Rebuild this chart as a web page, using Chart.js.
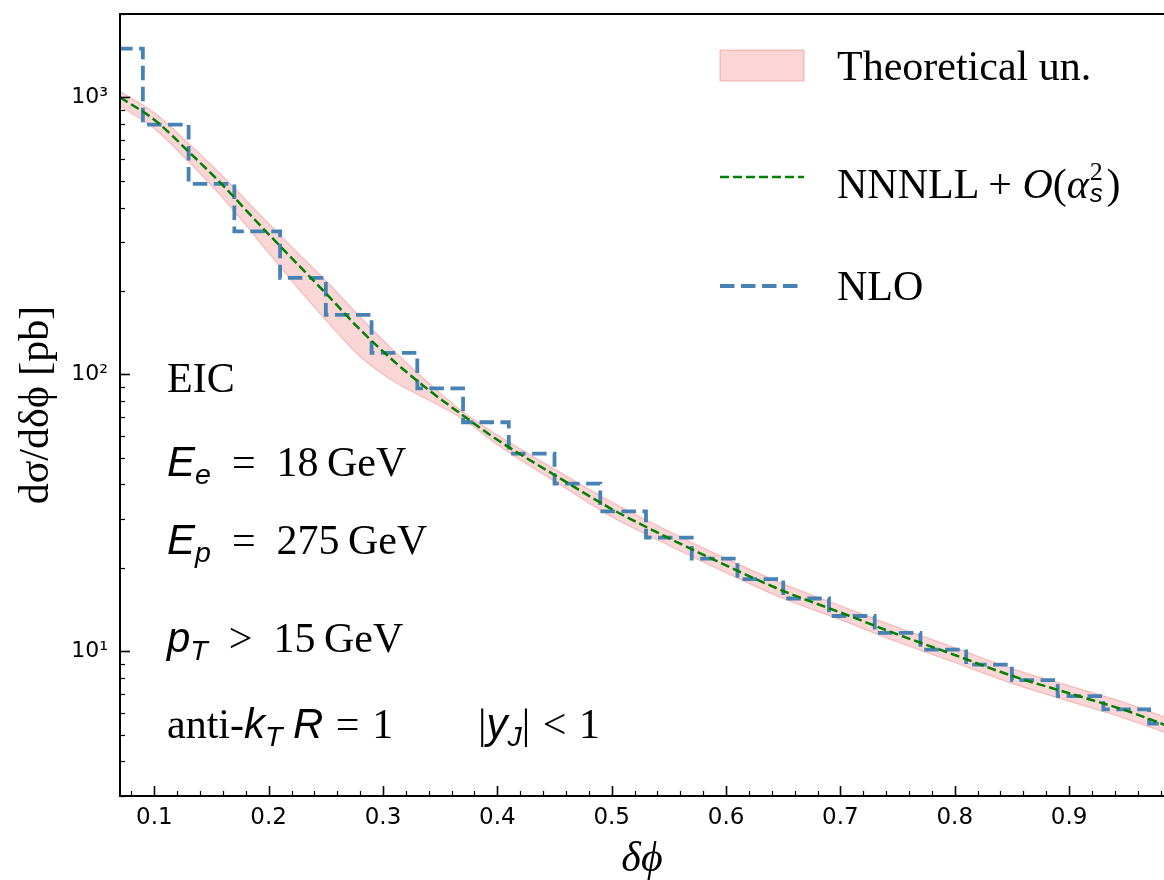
<!DOCTYPE html>
<html>
<head>
<meta charset="utf-8">
<script src="https://cdn.jsdelivr.net/npm/chart.js@4.4.0/dist/chart.umd.min.js"></script>
<style>
  body { margin: 0; background: #fff; }
  #wrap { position: relative; width: 1164px; height: 880px; overflow: hidden; }
  canvas { position: absolute; left: 0; top: 0; }
  .txt { position: absolute; font-family: "Liberation Serif", serif; font-size: 42px; line-height: 1; color: #000; white-space: nowrap; }
  .mi { font-family: "Liberation Sans", "DejaVu Sans", sans-serif; font-style: italic; }
  .it { font-style: italic; }
  sub { font-size: 0.68em; vertical-align: -0.28em; line-height: 0; }
  .op { margin: 0 0.5em; }
  .op2 { margin: 0 0.3em; }
  .ss { position: relative; display: inline-block; width: 0.42em; height: 1em; }
  .ss span { position: absolute; left: 0.04em; font-size: 0.62em; line-height: 1; }
  .ss .up { bottom: 0.5em; font-family: "Liberation Serif", serif; }
  .ss .dn { bottom: -0.3em; }
</style>
</head>
<body>
<div id="wrap">
  <canvas id="c" width="1164" height="880"></canvas>

  <div class="txt" style="left:837px;top:45px">Theoretical un.</div>
  <div class="txt" style="left:837px;top:156px">NNNLL + <span class="it">O</span>(<span class="it">α</span><span class="ss"><span class="up">2</span><span class="dn mi">s</span></span>)</div>
  <div class="txt" style="left:837px;top:265px">NLO</div>

  <div class="txt" style="left:167px;top:357px">EIC</div>
  <div class="txt" style="left:167px;top:441px"><span class="mi">E</span><sub class="mi">e</sub><span class="op">=</span>18&thinsp;GeV</div>
  <div class="txt" style="left:167px;top:519px"><span class="mi">E</span><sub class="mi">p</sub><span class="op">=</span>275&thinsp;GeV</div>
  <div class="txt" style="left:167px;top:617px"><span class="mi">p</span><sub class="mi">T</sub><span class="op">&gt;</span>15&thinsp;GeV</div>
  <div class="txt" style="left:167px;top:703px">anti-<span class="mi">k</span><sub class="mi">T</sub> <span class="mi">R</span><span class="op2">=</span>1</div>
  <div class="txt" style="left:478px;top:703px">|<span class="mi">y</span><sub class="mi">J</sub>|<span class="op2">&lt;</span>1</div>
</div>

<script>
// NNNLL + O(as^2) curve and its uncertainty band
const xTheory = [0.07, 0.10, 0.13, 0.16, 0.19, 0.22, 0.25, 0.28, 0.31, 0.34, 0.37, 0.40,
                 0.45, 0.50, 0.55, 0.60, 0.65, 0.70, 0.75, 0.80, 0.85, 0.90, 0.95, 0.99];
const nnnll  = [1000, 830, 637, 481, 354, 263, 196, 145, 111, 87.7, 71, 58,
                43.3, 32.6, 25.6, 20.4, 16.5, 13.8, 11.5, 9.69, 8.15, 7.05, 6.1, 5.3];
const bandUp = [1050, 880, 682, 519, 386, 289, 218, 161, 121, 93, 73.1, 60.3,
                45.5, 34.6, 27.1, 21.6, 17.5, 14.6, 12.2, 10.3, 8.65, 7.5, 6.5, 5.65];
const bandLo = [930, 772, 586, 433, 308, 218, 157, 116, 94, 80.7, 68.9, 55.7,
                41.1, 30.6, 24.1, 19.2, 15.5, 13.0, 10.8, 9.1, 7.65, 6.6, 5.7, 4.98];

// NLO histogram: bin edges and bin contents
const nloEdges = [0.05, 0.09, 0.13, 0.17, 0.21, 0.25, 0.29, 0.33, 0.37, 0.41, 0.45, 0.49, 0.53,
                  0.57, 0.61, 0.65, 0.69, 0.73, 0.77, 0.81, 0.85, 0.89, 0.93, 0.97, 1.01];
const nlo = [1500, 797, 487, 328, 223, 164, 119.5, 89, 67.1, 51.7, 40.3, 32.0,
             25.7, 21.6, 18.2, 15.5, 13.4, 11.65, 10.14, 8.95, 7.86, 6.88, 6.16, 5.48];

const xTicks = [0.1, 0.2, 0.3, 0.4, 0.5, 0.6, 0.7, 0.8, 0.9];
const yTicks = [10, 100, 1000];
const supDigits = {1: '\u00b9', 2: '\u00b2', 3: '\u00b3'};

const bandFill = 'rgba(240, 128, 128, 0.32)';
const bandEdge = 'rgba(240, 128, 128, 0.45)';
const green = '#008000';
const blue = '#4682b4';

function toXY(xs, ys) {
    return xs.map((x, i) => ({x: x, y: ys[i]}));
}
// last edge repeats the last bin value so the step closes
const nloPts = nloEdges.map((e, i) => ({x: e, y: nlo[Math.min(i, nlo.length - 1)]}));

// spines, inward ticks and legend handles
const frame = {
    id: 'frame',
    afterDatasetsDraw(chart) {
        const {ctx, chartArea: a, scales: {x, y}} = chart;
        ctx.save();
        ctx.strokeStyle = '#000';

        for (let i = 4; i <= 49; i++) {
            const v = i / 50;
            if (v < x.min || v > x.max) continue;
            const px = Math.round(x.getPixelForValue(v)) + 0.5;
            const major = i % 5 === 0;
            ctx.lineWidth = major ? 1.6 : 1.2;
            ctx.beginPath();
            ctx.moveTo(px, a.bottom);
            ctx.lineTo(px, a.bottom - (major ? 10 : 5));
            ctx.stroke();
        }
        for (const d of [1, 10, 100, 1000]) {
            for (let m = 1; m <= 9; m++) {
                const v = m * d;
                if (v < y.min || v > y.max) continue;
                const py = Math.round(y.getPixelForValue(v)) + 0.5;
                ctx.lineWidth = m === 1 ? 1.6 : 1.2;
                ctx.beginPath();
                ctx.moveTo(a.left, py);
                ctx.lineTo(a.left + (m === 1 ? 10 : 5), py);
                ctx.stroke();
            }
        }

        ctx.lineWidth = 2;
        ctx.beginPath();
        ctx.moveTo(a.right + 2, a.top);
        ctx.lineTo(a.left, a.top);
        ctx.lineTo(a.left, a.bottom);
        ctx.lineTo(a.right + 2, a.bottom);
        ctx.stroke();

        // legend handles
        ctx.fillStyle = bandFill;
        ctx.fillRect(720, 50, 84, 31);
        ctx.strokeStyle = bandEdge;
        ctx.lineWidth = 1.2;
        ctx.strokeRect(720, 50, 84, 31);

        ctx.strokeStyle = green;
        ctx.lineWidth = 2.5;
        ctx.setLineDash([9, 4]);
        ctx.beginPath();
        ctx.moveTo(720, 177);
        ctx.lineTo(804, 177);
        ctx.stroke();

        ctx.strokeStyle = blue;
        ctx.lineWidth = 3.8;
        ctx.setLineDash([14.5, 6.5]);
        ctx.beginPath();
        ctx.moveTo(720, 286);
        ctx.lineTo(804, 286);
        ctx.stroke();
        ctx.restore();
    }
};

const config = {
    type: 'line',
    data: {
        datasets: [
            {
                label: 'NNNLL + O(as^2)',
                data: toXY(xTheory, nnnll),
                borderColor: green,
                borderWidth: 2.5,
                borderDash: [9, 4],
                pointRadius: 0,
                fill: false,
                cubicInterpolationMode: 'monotone',
                order: 0
            },
            {
                label: 'NLO',
                data: nloPts,
                borderColor: blue,
                borderWidth: 3.8,
                borderDash: [14.5, 6.5],
                stepped: 'before',
                pointRadius: 0,
                fill: false,
                order: 1
            },
            {
                label: 'Theoretical un.',
                data: toXY(xTheory, bandUp),
                borderColor: bandEdge,
                borderWidth: 1.2,
                backgroundColor: bandFill,
                pointRadius: 0,
                fill: '+1',
                cubicInterpolationMode: 'monotone',
                order: 2
            },
            {
                label: 'band low',
                data: toXY(xTheory, bandLo),
                borderColor: bandEdge,
                borderWidth: 1.2,
                pointRadius: 0,
                fill: false,
                cubicInterpolationMode: 'monotone',
                order: 3
            }
        ]
    },
    options: {
        responsive: false,
        animation: false,
        devicePixelRatio: 1,
        layout: {padding: {top: 14, right: 0, left: 0, bottom: 0}},
        plugins: {legend: {display: false}, tooltip: {enabled: false}},
        scales: {
            x: {
                type: 'linear',
                min: 0.07,
                max: 0.983,
                bounds: 'data',
                afterBuildTicks: s => { s.ticks = xTicks.map(v => ({value: v})); },
                afterFit: s => {
                    s.height = 84;
                    s.paddingLeft = 0;
                    s.paddingRight = 0;
                },
                grid: {display: false, drawTicks: false},
                border: {display: false},
                ticks: {
                    color: '#000',
                    font: {family: 'DejaVu Sans', size: 23},
                    padding: 8,
                    maxRotation: 0,
                    autoSkip: false,
                    callback: v => v.toFixed(1)
                },
                title: {
                    display: true,
                    text: '\u03b4\u03d5',
                    color: '#000',
                    font: {family: 'Liberation Serif', size: 42, style: 'italic', lineHeight: 0.9},
                    padding: {top: 0, bottom: 1}
                }
            },
            y: {
                type: 'logarithmic',
                min: 3,
                max: 2000,
                bounds: 'data',
                afterBuildTicks: s => { s.ticks = yTicks.map(v => ({value: v})); },
                afterFit: s => {
                    s.width = 120;
                    s.paddingTop = 0;
                    s.paddingBottom = 0;
                },
                grid: {display: false, drawTicks: false},
                border: {display: false},
                ticks: {
                    color: '#000',
                    font: {family: 'DejaVu Sans', size: 22},
                    padding: 12,
                    autoSkip: false,
                    callback: v => '10' + supDigits[Math.round(Math.log10(v))]
                },
                title: {
                    display: true,
                    text: 'd\u03c3/d\u03b4\u03d5 [pb]',
                    color: '#000',
                    font: {family: 'Liberation Serif', size: 42, lineHeight: 0.9},
                    padding: {top: 18, bottom: 0}
                }
            }
        }
    },
    plugins: [frame]
};

const ctx = document.getElementById('c').getContext('2d');
const plot = new Chart(ctx, config);
</script>
</body>
</html>
